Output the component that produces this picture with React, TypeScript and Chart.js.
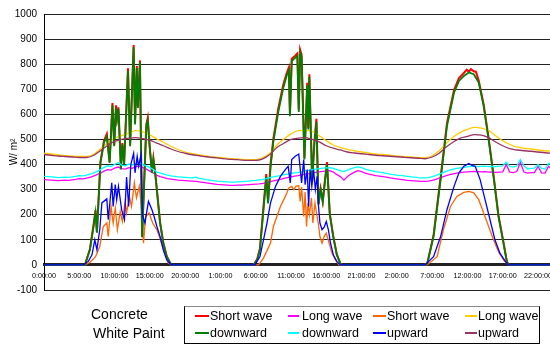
import React, { useEffect, useRef } from 'react';
import { Chart, registerables } from 'chart.js';

Chart.register(...registerables);

const FONT = '"Liberation Sans", Arial, Helvetica, sans-serif';

// Legend texts
const groupNames = ['Concrete', 'White Paint'];
const legendTop = ['Short wave', 'Long wave', 'Short wave', 'Long wave'];
const legendBottom = ['downward', 'downward', 'upward', 'upward'];
const yTitle = 'W/ m²';

// Tick settings (hours)
const xTickStep = 5;
const yTicks = { min: -100, max: 1000, step: 100 };

// Time axes (hours since start)
const halfHours = Array.from({ length: 145 }, (_, i) => i * 0.5);
const hours = Array.from({ length: 73 }, (_, i) => i);

// Short wave downward [hour, W/m2]
const concreteSwDown: [number, number][] = [
  [0, 0], [5.8, 0], [6.5, 62], [7.0, 155], [7.3, 218], [7.5, 130], [8.0, 412], [8.5, 495], [8.9, 522], [9.3, 410],
  [9.7, 645], [9.95, 478], [10.2, 636], [10.35, 584], [10.55, 628], [10.9, 384], [11.1, 486], [11.35, 404], [11.9, 784],
  [12.2, 478], [12.7, 876], [12.9, 566], [13.15, 793], [13.3, 630], [13.6, 815], [13.9, 112], [14.5, 560], [14.7, 586],
  [15.0, 464], [15.3, 370], [15.5, 425], [15.8, 356], [16.45, 169], [16.9, 89], [17.4, 34], [17.9, 7], [18.1, 0],
  [29.7, 0], [30.2, 22], [30.6, 66], [31.1, 232], [31.5, 362], [31.75, 255], [32.1, 402], [32.5, 503], [33.2, 624],
  [33.9, 718], [34.4, 766], [34.7, 787], [34.85, 600], [35.1, 822], [35.6, 834], [35.9, 843], [36.1, 618], [36.3, 857],
  [36.5, 838], [36.9, 425], [37.3, 726], [37.45, 546], [37.6, 760], [38.0, 334], [38.3, 486], [38.6, 582], [38.9, 243],
  [39.2, 304], [39.5, 254], [39.8, 335], [40.1, 410], [40.5, 203], [41.0, 112], [41.5, 41], [42.0, 5], [42.3, 0],
  [53.9, 0], [54.3, 5], [55.2, 118], [56.2, 350], [57.1, 565], [58.1, 697], [58.8, 745], [59.5, 765], [59.9, 778],
  [60.2, 770], [60.5, 780], [60.9, 772], [61.2, 770], [61.6, 735], [62.3, 640], [63.0, 505], [63.7, 357], [64.4, 196],
  [65.1, 92], [65.6, 12], [65.9, 0], [72, 0],
];

const whiteSwDown: [number, number][] = [
  [0, 0], [5.8, 0], [6.5, 60], [7.0, 150], [7.3, 209], [7.5, 128], [8.0, 407], [8.5, 487], [8.9, 511], [9.3, 407],
  [9.7, 636], [9.95, 473], [10.2, 627], [10.35, 580], [10.55, 620], [10.9, 380], [11.1, 480], [11.35, 400], [11.9, 773],
  [12.2, 473], [12.7, 867], [12.9, 560], [13.15, 785], [13.3, 625], [13.6, 808], [13.9, 110], [14.5, 553], [14.7, 577],
  [15.0, 460], [15.3, 367], [15.5, 420], [15.8, 353], [16.45, 167], [16.9, 87], [17.4, 33], [17.9, 7], [18.1, 0],
  [29.7, 0], [30.2, 20], [30.6, 60], [31.1, 220], [31.5, 350], [31.75, 245], [32.1, 390], [32.5, 490], [33.2, 610],
  [33.9, 705], [34.4, 755], [34.7, 775], [34.85, 593], [35.1, 812], [35.6, 825], [35.9, 833], [36.1, 610], [36.3, 848],
  [36.5, 830], [36.9, 420], [37.3, 715], [37.45, 540], [37.6, 750], [38.0, 330], [38.3, 480], [38.6, 570], [38.9, 240],
  [39.2, 300], [39.5, 250], [39.8, 330], [40.1, 400], [40.5, 200], [41.0, 110], [41.5, 40], [42.0, 5], [42.3, 0],
  [53.9, 0], [54.3, 5], [55.2, 113], [56.2, 340], [57.1, 553], [58.1, 687], [58.8, 733], [59.5, 753], [60.2, 767],
  [60.9, 760], [61.6, 727], [62.3, 633], [63.0, 500], [63.7, 353], [64.4, 193], [65.1, 87], [65.6, 10], [65.9, 0], [72, 0],
];

// Short wave upward [hour, W/m2]
const concreteSwUp: [number, number][] = [
  [0, 0], [5.8, 0], [6.5, 10], [7.3, 33], [7.9, 73], [8.4, 153], [8.9, 167], [9.1, 113], [9.5, 233], [9.8, 167],
  [10.1, 227], [10.4, 140], [10.8, 213], [11.1, 173], [11.5, 253], [11.7, 207], [12.1, 273], [12.4, 233], [12.8, 327],
  [13.1, 267], [13.5, 313], [13.8, 233], [14.1, 87], [14.4, 193], [14.9, 207], [15.4, 167], [16.0, 140], [16.5, 100],
  [17.1, 47], [17.6, 7], [18.1, 0],
  [30.4, 0], [31.1, 27], [32.1, 87], [32.5, 153], [33.5, 233], [34.2, 273], [34.7, 307], [35.1, 313], [35.4, 300],
  [35.7, 313], [36.1, 316], [36.3, 253], [36.5, 310], [36.8, 193], [37.0, 290], [37.2, 153], [37.4, 247], [37.6, 200],
  [37.9, 267], [38.1, 167], [38.4, 247], [38.7, 193], [38.9, 160], [39.1, 113], [39.4, 87], [39.7, 113], [40.0, 127],
  [40.4, 87], [40.8, 47], [41.3, 20], [41.8, 0],
  [54.3, 0], [55.7, 33], [56.6, 140], [57.6, 233], [58.5, 273], [59.5, 289], [60.2, 293], [60.9, 287], [61.6, 260],
  [62.3, 207], [63.0, 153], [63.7, 100], [64.4, 53], [65.1, 20], [65.8, 0], [72, 0],
];

const whiteSwUp: [number, number][] = [
  [0, 0], [5.6, 0], [6.3, 15], [6.8, 40], [7.2, 100], [7.5, 60], [7.9, 140], [8.2, 247], [8.9, 263], [9.1, 180],
  [9.6, 327], [9.8, 233], [10.1, 320], [10.3, 260], [10.55, 313], [11.0, 220], [11.4, 180], [11.7, 350], [12.0, 233],
  [12.3, 400], [12.7, 445], [12.9, 367], [13.2, 433], [13.4, 393], [13.75, 440], [13.95, 200], [14.3, 167], [14.8, 253],
  [15.3, 220], [15.6, 193], [16.0, 153], [16.45, 113], [16.9, 60], [17.4, 20], [17.9, 4], [18.2, 0],
  [29.9, 0], [30.6, 33], [31.1, 100], [31.6, 167], [31.8, 200], [32.1, 247], [32.8, 313], [33.5, 353], [34.2, 380],
  [34.6, 393], [34.9, 327], [35.1, 420], [35.6, 433], [36.1, 442], [36.5, 327], [36.8, 420], [37.0, 320], [37.3, 380],
  [37.5, 233], [37.7, 380], [37.95, 313], [38.2, 380], [38.45, 300], [38.7, 353], [38.9, 233], [39.1, 167], [39.4, 140],
  [39.7, 150], [40.0, 173], [40.3, 140], [40.6, 87], [41.0, 40], [41.5, 13], [42.0, 0],
  [54.0, 0], [55.2, 33], [56.2, 113], [57.1, 220], [58.1, 313], [58.8, 367], [59.5, 393], [60.2, 404], [60.7, 396],
  [61.1, 393], [61.8, 340], [62.5, 260], [63.2, 180], [63.9, 100], [64.6, 47], [65.4, 13], [65.8, 0], [72, 0],
];

// Long wave downward, every half hour
const concreteLwDown = [
  340, 339, 338, 337, 336, 337, 338, 337, 339, 341, 344, 343,
  346, 349, 354, 360, 366, 374, 380, 378, 386, 390, 384, 382,
  388, 385, 392, 394, 388, 382, 374, 366, 357, 352, 348, 344,
  342, 340, 338, 337, 336, 335, 334, 333, 331, 329, 327, 325,
  323, 321, 320, 319, 318, 317, 317, 318, 318, 319, 320, 321,
  322, 323, 325, 328, 331, 335, 338, 341, 345, 348, 351, 354,
  356, 359, 362, 364, 367, 369, 371, 373, 375, 376, 370, 360,
  352, 338, 352, 362, 370, 376, 372, 366, 362, 359, 356, 354,
  352, 350, 347, 345, 343, 341, 339, 337, 336, 335, 334, 333,
  333, 334, 337, 341, 346, 351, 356, 360, 363, 366, 368, 370,
  371, 372, 373, 372, 371, 372, 370, 371, 369, 370, 371, 400,
  370, 368, 372, 409, 370, 366, 368, 368, 393, 367, 366, 393,
  380,
];

const whiteLwDown = [
  353, 352, 351, 350, 348, 349, 350, 349, 351, 353, 356, 355,
  358, 362, 366, 372, 380, 388, 395, 392, 400, 408, 398, 395,
  402, 398, 405, 408, 400, 395, 388, 380, 370, 366, 362, 358,
  355, 353, 351, 350, 349, 348, 347, 350, 345, 343, 340, 338,
  336, 334, 333, 332, 331, 330, 330, 331, 332, 333, 334, 336,
  337, 339, 341, 344, 348, 351, 354, 356, 360, 362, 365, 367,
  368, 372, 375, 377, 380, 382, 384, 386, 387, 388, 385, 380,
  376, 372, 378, 384, 388, 391, 388, 382, 378, 375, 372, 370,
  368, 365, 362, 360, 358, 357, 355, 353, 351, 350, 348, 347,
  347, 348, 352, 356, 362, 367, 373, 378, 382, 385, 387, 389,
  391, 393, 394, 392, 393, 394, 392, 393, 392, 394, 395, 409,
  393, 390, 394, 420, 395, 382, 385, 386, 400, 385, 382, 405,
  398,
];

// Long wave upward, every hour
const concreteLwUp = [
  445, 442, 438, 435, 433, 432, 432, 440, 462, 485, 505, 515,
  525, 535, 530, 518, 502, 488, 472, 460, 450, 443, 438, 434,
  430, 428, 425, 423, 421, 420, 420, 428, 445, 478, 502, 522,
  535, 536, 532, 515, 495, 478, 468, 460, 455, 450, 446, 442,
  440, 437, 434, 432, 430, 428, 427, 435, 455, 485, 510, 528,
  540, 548, 545, 535, 515, 495, 480, 470, 465, 462, 458, 455,
  453,
];

const whiteLwUp = [
  440, 437, 434, 432, 430, 428, 428, 436, 455, 476, 492, 500,
  505, 507, 503, 497, 485, 474, 462, 452, 445, 439, 435, 431,
  428, 425, 422, 420, 418, 417, 417, 423, 440, 468, 485, 500,
  505, 507, 500, 490, 475, 465, 458, 450, 446, 443, 440, 437,
  435, 433, 431, 429, 427, 425, 423, 430, 445, 470, 490, 505,
  512, 519, 517, 507, 490, 475, 463, 458, 455, 453, 450, 447,
  445,
];

const fromPairs = (pairs: [number, number][]) => pairs.map(([x, y]) => ({ x, y }));
const fromSeries = (xs: number[], ys: number[]) => ys.map((y, i) => ({ x: xs[i], y }));

const series = [
  { label: 'Concrete Short wave downward', color: '#FF0000', width: 2, data: fromPairs(concreteSwDown), smooth: false },
  { label: 'Concrete Long wave downward', color: '#FF00FF', width: 1.3, data: fromSeries(halfHours, concreteLwDown), smooth: false },
  { label: 'Concrete Short wave upward', color: '#FF6600', width: 1.3, data: fromPairs(concreteSwUp), smooth: false },
  { label: 'Concrete Long wave upward', color: '#FFCC00', width: 1.3, data: fromSeries(hours, concreteLwUp), smooth: true },
  { label: 'White Paint Short wave downward', color: '#008000', width: 1.8, data: fromPairs(whiteSwDown), smooth: false },
  { label: 'White Paint Long wave downward', color: '#00FFFF', width: 1.3, data: fromSeries(halfHours, whiteLwDown), smooth: false },
  { label: 'White Paint Short wave upward', color: '#0000FF', width: 1.3, data: fromPairs(whiteSwUp), smooth: false },
  { label: 'White Paint Long wave upward', color: '#993366', width: 1.3, data: fromSeries(hours, whiteLwUp), smooth: true },
];

const legendCols = [
  { lineX: 195, lineW: 14, textX: 210 },
  { lineX: 288, lineW: 11, textX: 302 },
  { lineX: 373, lineW: 13, textX: 387 },
  { lineX: 465, lineW: 12, textX: 478 },
];
const legendRowsY = [316, 333];

export default function App() {
  const ref = useRef<HTMLCanvasElement>(null);

  useEffect(() => {
    if (!ref.current) return;
    const chart = new Chart(ref.current, {
      type: 'line',
      data: {
        datasets: series.map((s, i) => ({
          label: s.label,
          data: s.data,
          borderColor: s.color,
          backgroundColor: s.color,
          borderWidth: s.width,
          pointRadius: 0,
          fill: false,
          tension: 0,
          cubicInterpolationMode: s.smooth ? 'monotone' : 'default',
          order: series.length - i,
        })),
      },
      options: {
        animation: false,
        responsive: false,
        maintainAspectRatio: false,
        events: [],
        layout: { padding: { top: 14, bottom: 55, left: 0, right: 0 } },
        plugins: { legend: { display: false }, tooltip: { enabled: false }, title: { display: false } },
        scales: {
          x: {
            type: 'linear',
            min: 0,
            max: 71.7,
            position: { y: 0 } as any,
            grid: { display: false, drawTicks: false },
            border: { display: true, color: '#222', width: 3, dash: [1, 1] },
            ticks: {
              stepSize: xTickStep,
              includeBounds: false,
              autoSkip: false,
              maxRotation: 0,
              minRotation: 0,
              padding: 7,
              color: '#000',
              font: { size: 7.2, family: FONT },
              callback: (v: any) => `${Number(v) % 24}:00:00`,
            },
            afterFit: (s: any) => {
              s.paddingLeft = 0;
              s.paddingRight = 0;
            },
          },
          y: {
            type: 'linear',
            min: yTicks.min,
            max: yTicks.max,
            grid: { color: '#222', lineWidth: 1, drawTicks: false },
            border: { display: true, color: '#000', width: 1 },
            ticks: {
              stepSize: yTicks.step,
              padding: 7,
              color: '#000',
              font: { size: 10, family: FONT },
              callback: (v: any) => String(v),
            },
            title: {
              display: true,
              text: yTitle,
              color: '#000',
              font: { size: 10, family: FONT },
              padding: { top: 8, bottom: 0 },
            },
            afterFit: (s: any) => {
              s.width = 44;
              s.paddingTop = 0;
              s.paddingBottom = 0;
            },
          },
        },
      } as any,
    });
    return () => chart.destroy();
  }, []);

  const concrete = series.slice(0, 4);
  const white = series.slice(4, 8);

  return (
    <div style={{ position: 'fixed', left: 0, top: 0, width: 550, height: 345, background: '#fff', fontFamily: FONT, color: '#000', overflow: 'hidden' }}>
      <canvas ref={ref} width={550} height={345} style={{ position: 'absolute', left: 0, top: 0, width: 550, height: 345 }} />
      <div style={{ position: 'absolute', left: 91, top: 306, fontSize: 14, lineHeight: '16px', whiteSpace: 'nowrap' }}>{groupNames[0]}</div>
      <div style={{ position: 'absolute', left: 93, top: 325, fontSize: 14, lineHeight: '16px', whiteSpace: 'nowrap' }}>{groupNames[1]}</div>
      <div style={{ position: 'absolute', left: 184, top: 306, width: 354, height: 36, border: '1px solid #000', borderTopColor: '#888', boxSizing: 'content-box' }} />
      {[concrete, white].map((row, r) =>
        row.map((s, c) => (
          <React.Fragment key={s.label}>
            <div style={{ position: 'absolute', left: legendCols[c].lineX, top: legendRowsY[r] - 1, width: legendCols[c].lineW, height: 1.5, background: s.color }} />
            <div style={{ position: 'absolute', left: legendCols[c].textX, top: legendRowsY[r] - 8, fontSize: 12.5, lineHeight: '16px', whiteSpace: 'nowrap' }}>
              {r === 0 ? legendTop[c] : legendBottom[c]}
            </div>
          </React.Fragment>
        ))
      )}
    </div>
  );
}
